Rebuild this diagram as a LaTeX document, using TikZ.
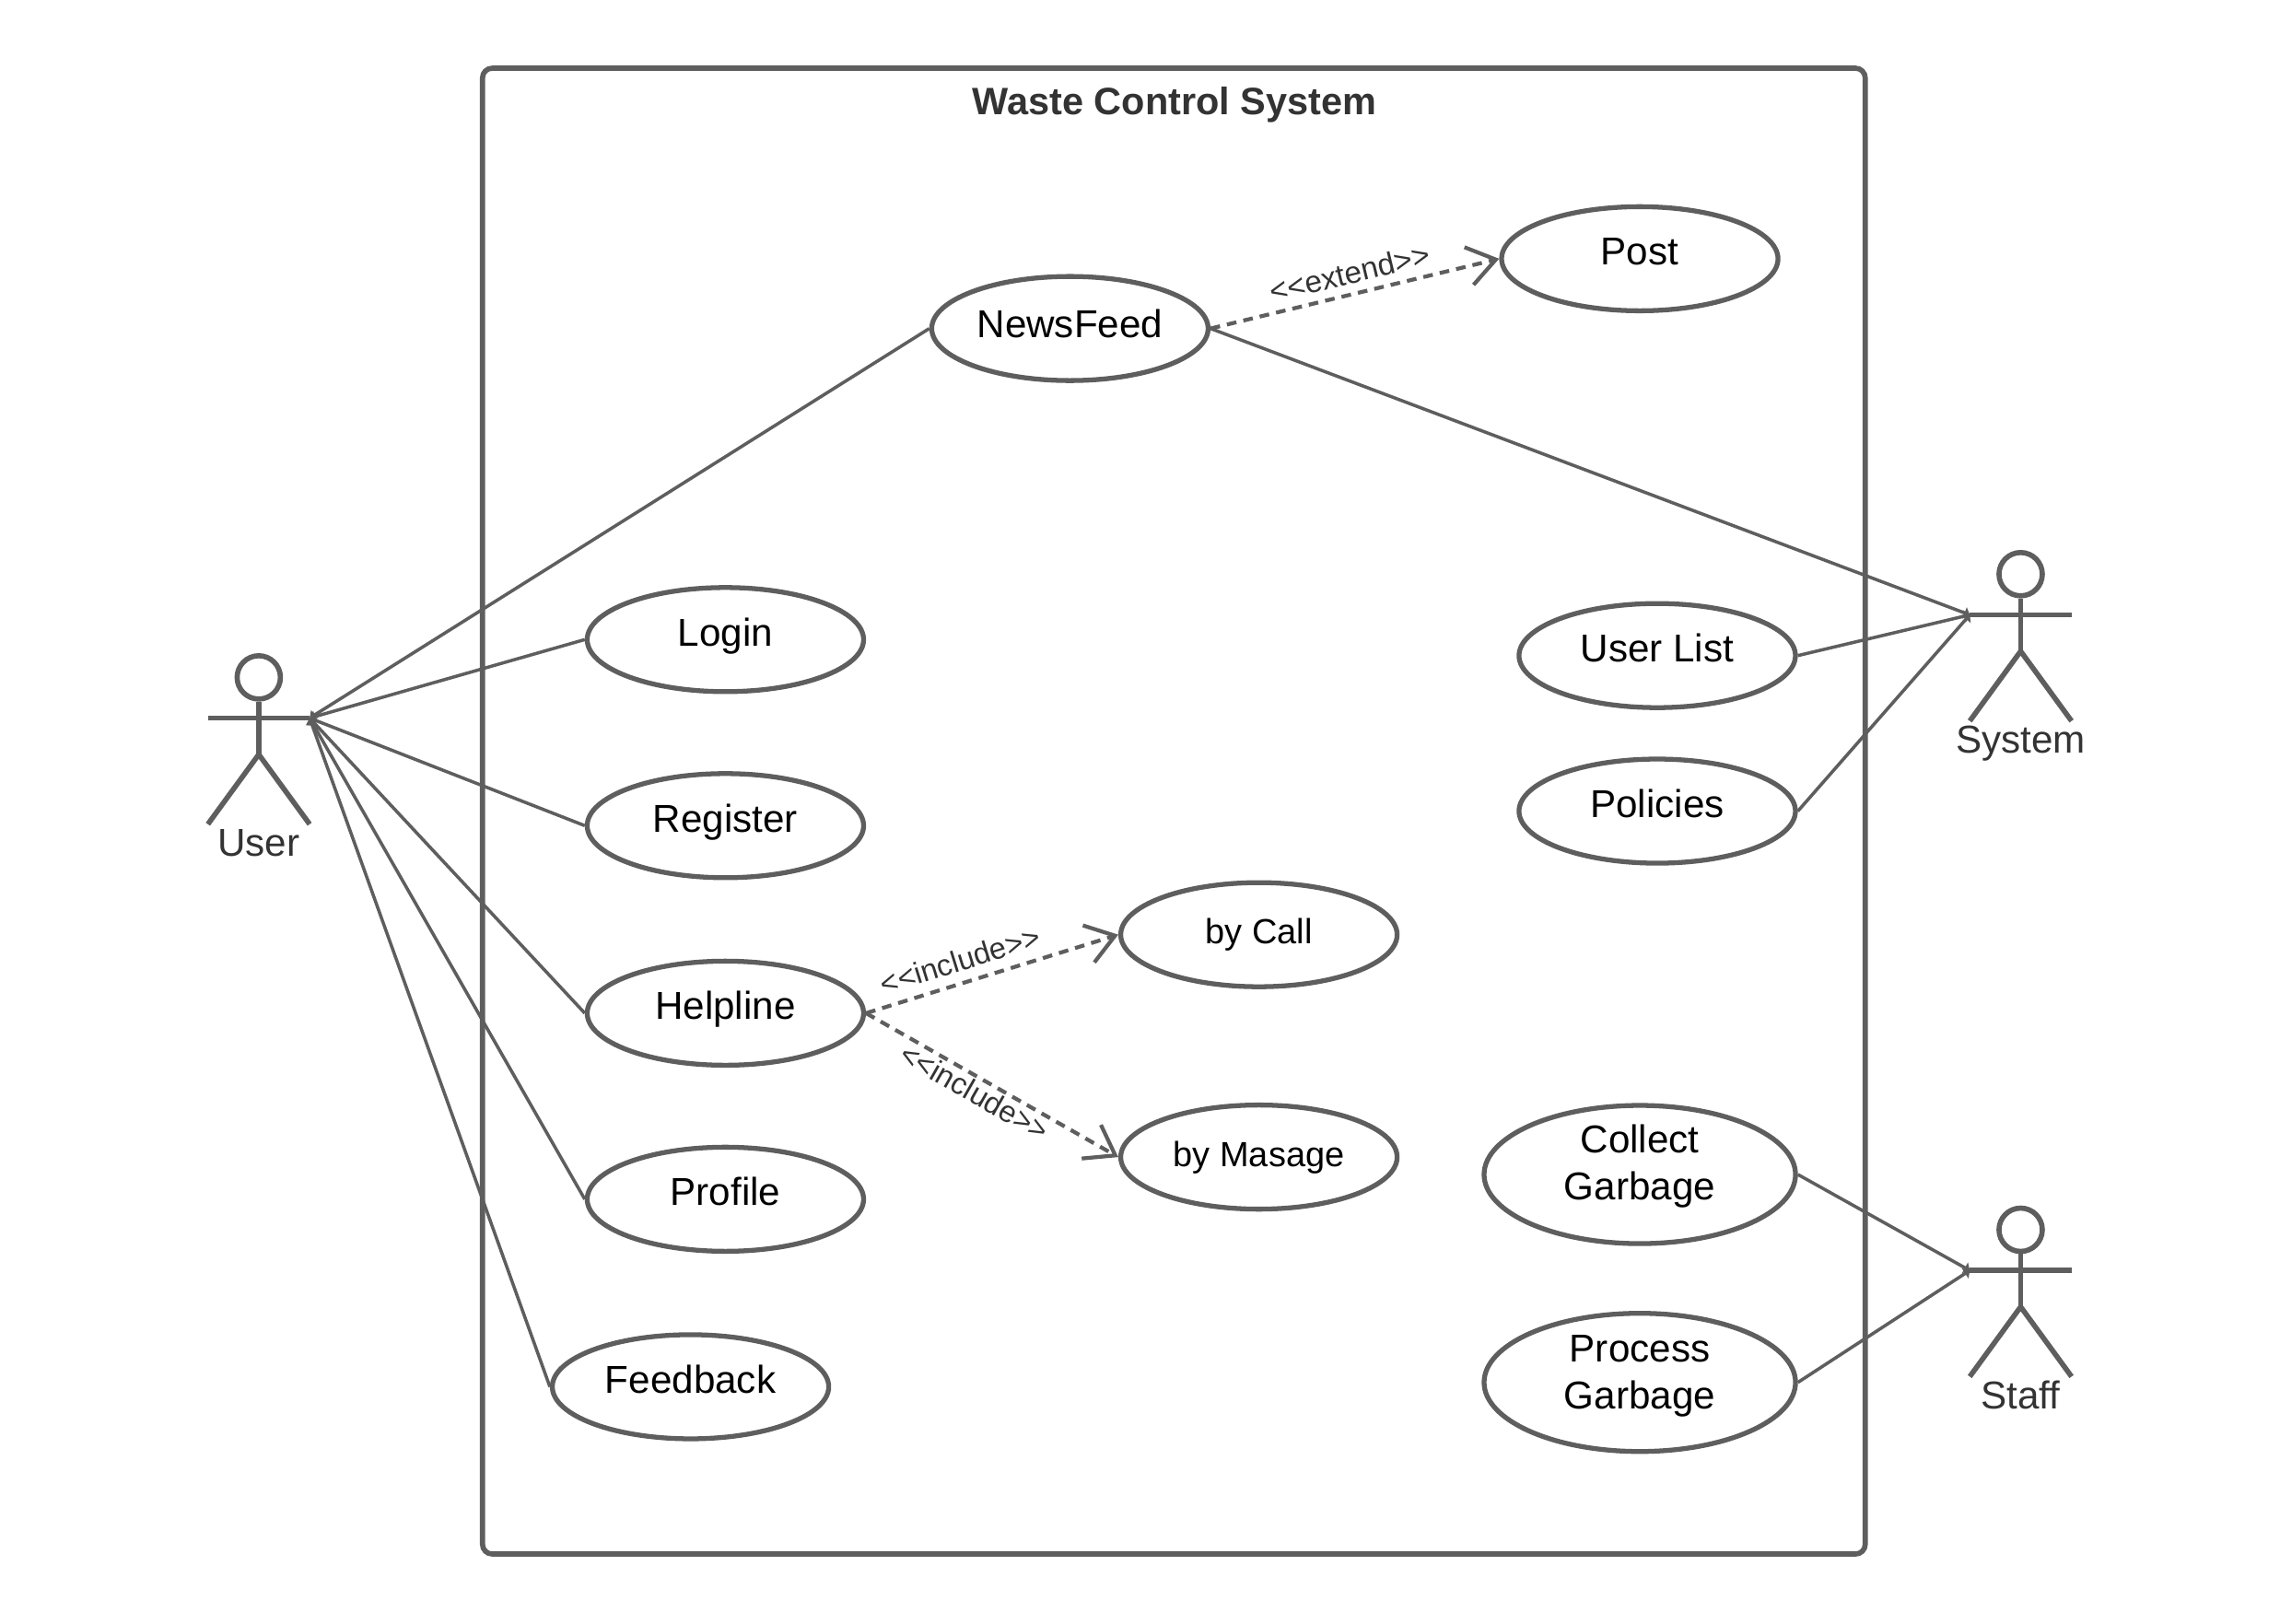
\documentclass[tikz,border=0pt]{standalone}
\usepackage{fontspec}
\setmainfont{Liberation Sans}
\usetikzlibrary{arrows.meta,shapes.geometric}
\definecolor{strichgrau}{HTML}{5E5E5E}
\definecolor{textgrau}{HTML}{333333}
\tikzset{
  usecase/.style={draw=strichgrau,line width=1.5pt,ellipse,fill=white,inner sep=0pt,minimum width=3cm,minimum height=1.13cm,font=\fontsize{12}{14.4}\selectfont,text=black,text height=9pt,text depth=5pt},
  bigcase/.style={usecase,minimum width=3.38cm,minimum height=1.5cm,align=center,text height=15.7pt,text depth=0.3pt},
  smallcase/.style={usecase,font=\fontsize{10.8}{13}\selectfont,text depth=3.2pt},
  assoc/.style={draw=strichgrau,line width=1pt},
  handtip/.tip={Triangle[length=0.06cm,width=0.13cm]},
  depend/.style={draw=strichgrau,line width=1.2pt,dash pattern=on 3pt off 2.2pt,-{Straight Barb[length=0.3cm,width=0.42cm]}},
  stereo/.style={text=textgrau,font=\fontsize{9.3}{11}\selectfont,inner sep=2.5pt},
  actorline/.style={draw=strichgrau,line width=1.6pt}
}
\begin{document}
\begin{tikzpicture}[x=0.01578cm,y=-0.01578cm]
\useasboundingbox (0,0) rectangle (1568.4,1117.2);
%System frame with title
\node[draw=strichgrau,line width=1.6pt,rounded corners=3pt,minimum width=15.007cm,minimum height=16.127cm,inner sep=0pt] (sysFrame) at (807.5,558) {};
\node[text=textgrau,font=\fontsize{11.8}{14}\selectfont\bfseries] (sysTitle) at (808,72) {Waste Control System};
%Actors: name / x of the head / top of the head
\foreach \an/\ax/\ay in {User/178/451,System/1390/380,Staff/1390/831}{
  \node[draw=strichgrau,line width=1.6pt,circle,inner sep=0pt,minimum size=0.47cm] (\an Head) at (\ax,\ay+15) {};
  \coordinate (\an Left) at (\ax-35,\ay+43);
  \coordinate (\an Right) at (\ax+35,\ay+43);
  \coordinate (\an Hip) at (\ax,\ay+68);
  \coordinate (\an FootL) at (\ax-35,\ay+116);
  \coordinate (\an FootR) at (\ax+35,\ay+116);
  \draw[actorline] (\an Head) -- (\an Hip);
  \draw[actorline] (\an Left) -- (\an Right);
  \draw[actorline] (\an FootL) -- (\an Hip) -- (\an FootR);
  \node[text=textgrau,font=\fontsize{12}{14}\selectfont,anchor=base,inner sep=0pt] (\an Label) at (\ax,\ay+138) {\an};
}
%Use cases
\node[usecase,text depth=3.2pt] (NewsFeed) at (736,226) {NewsFeed};
\node[usecase] (Post) at (1128,178) {Post};
\node[usecase] (Login) at (499,440) {Login};
\node[usecase] (Register) at (499,568) {Register};
\node[usecase] (Helpline) at (499,697) {Helpline};
\node[usecase] (Profile) at (499,825) {Profile};
\node[usecase] (Feedback) at (475,954) {Feedback};
\node[smallcase] (byCall) at (866,643) {by Call};
\node[smallcase] (byMasage) at (866,796) {by Masage};
\node[usecase] (UserList) at (1140,451) {User List};
\node[usecase] (Policies) at (1140,558) {Policies};
\node[bigcase] (Collect) at (1128,808) {Collect\\Garbage};
\node[bigcase,text height=16.6pt] (Process) at (1128,951) {Process\\Garbage};
%Associations
\foreach \uc in {NewsFeed,Login,Register,Helpline,Profile,Feedback}{
  \draw[assoc,handtip-] (UserRight) -- (\uc.west);
}
\foreach \uc in {NewsFeed,UserList,Policies}{
  \draw[assoc,-handtip] (\uc.east) -- (SystemLeft);
}
\foreach \uc in {Collect,Process}{
  \draw[assoc,-handtip] (\uc.east) -- (StaffLeft);
}
%Dependencies
\draw[depend] (NewsFeed.east) -- node[stereo,sloped,above,font=\fontsize{9.5}{11}\selectfont] {<{}<extend>{}>} (Post.west);
\draw[depend] (Helpline.east) -- node[stereo,sloped,above,pos=0.4,inner sep=3pt] {<{}<include>{}>} (byCall.west);
\draw[depend] (Helpline.east) -- node[stereo,sloped,below,pos=0.46,inner sep=0.5pt] {<{}<include>{}>} (byMasage.west);
\end{tikzpicture}
\end{document}
